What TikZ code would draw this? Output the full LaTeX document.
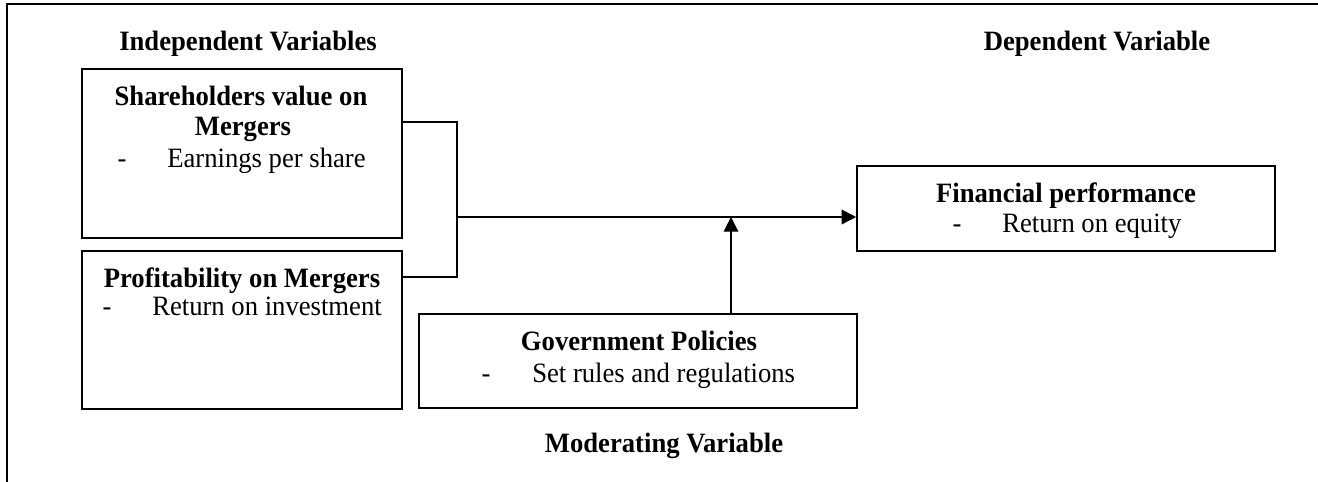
\documentclass[tikz,border=0pt]{standalone}
\usepackage{fontspec}
\setmainfont{Liberation Serif}[FakeStretch=0.952]
\usetikzlibrary{arrows.meta}
\tikzset{
  boxnode/.style={draw, line width=1.2pt, inner sep=0pt, rectangle},
  txt/.style={inner sep=0pt, anchor=base, font=\fontsize{21}{23}\selectfont},
  txtl/.style={txt, anchor=base west},
  bold/.style={txt, font=\fontsize{21}{23}\selectfont\bfseries},
  conn/.style={line width=1.1pt},
  thinconn/.style={line width=0.8pt},
  tip/.style={-{Triangle[length=11pt,width=11pt]}}
}
\begin{document}
\begin{tikzpicture}[x=0.75pt,y=-0.75pt]
\useasboundingbox (0,0) rectangle (1318,482);
% frame
\coordinate (fbl) at (7,482);
\coordinate (ftl) at (7,4);
\coordinate (ftr) at (1318,4);
\draw[line width=1.2pt] (fbl) -- (ftl) -- (ftr);
% headings
\node[bold] (hind) at (248,50) {Independent Variables};
\node[bold] (hdep) at (1097,50) {Dependent Variable};
\node[bold] (hmod) at (664,452) {Moderating Variable};
% boxes
\node[boxnode, minimum width=240pt, minimum height=126.75pt] (box1) at (242,153.5) {};
\node[boxnode, minimum width=240pt, minimum height=118.5pt] (box2) at (242,330) {};
\node[boxnode, minimum width=328.5pt, minimum height=70.5pt] (gov) at (638,361) {};
\node[boxnode, minimum width=313.5pt, minimum height=63.75pt] (fin) at (1066,208.5) {};
% box texts
\node[bold] (t1a) at (241,105) {Shareholders value on};
\node[bold] (t1b) at (243,135) {Mergers};
\node[txt] (d1) at (122,167) {-};
\node[txtl] (t1c) at (167,167) {Earnings per share};
\node[bold] (t2a) at (242,287) {Profitability on Mergers};
\node[txt] (d2) at (107,315) {-};
\node[txtl] (t2b) at (152,315) {Return on investment};
\node[bold] (t3a) at (639,350) {Government Policies};
\node[txt] (d3) at (486,382) {-};
\node[txtl] (t3b) at (532,382) {Set rules and regulations};
\node[bold] (t4a) at (1066,202) {Financial performance};
\node[txt] (d4) at (957,232) {-};
\node[txtl] (t4b) at (1002,232) {Return on equity};
% connectors
\coordinate (j1) at (457,122);
\coordinate (j2) at (457,277);
\coordinate (jm) at (457,217);
\coordinate (ja) at (731,217);
\draw[conn] (box1.east |- j1) -- (j1) -- (j2) -- (box2.east |- j2);
\draw[conn, tip] (jm) -- (jm -| fin.west);
\draw[thinconn, tip] (ja |- gov.north) -- (ja);
\end{tikzpicture}
\end{document}
